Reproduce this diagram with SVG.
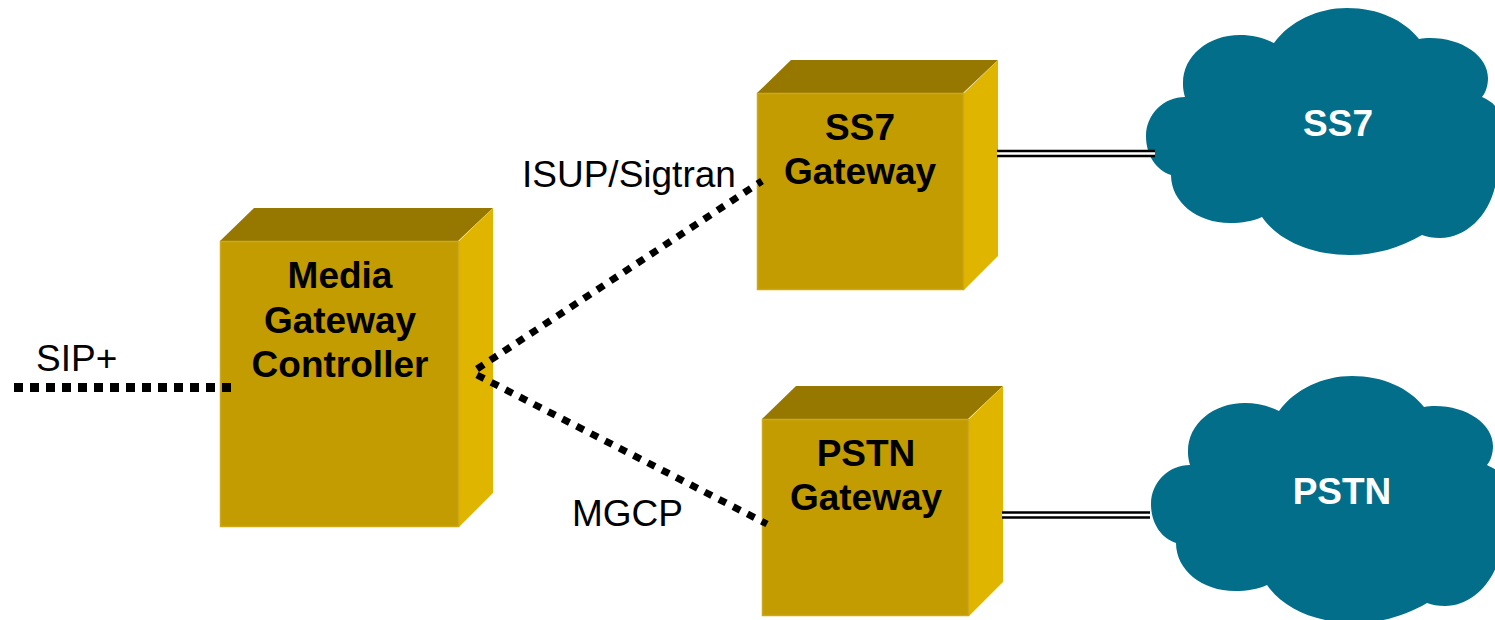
<svg xmlns="http://www.w3.org/2000/svg" width="1495" height="620" viewBox="0 0 1495 620">
<style>
.front{fill:#C29C00;stroke:#CDA91A;stroke-width:1.5}
.top{fill:#967800}
.side{fill:#E0B500}
.cloud{fill:#026E8A}
.t{font-family:"Liberation Sans",Arial,sans-serif;font-size:37px;fill:#000}
.b{font-weight:bold;text-anchor:middle}
.w{fill:#fff}
.dot{fill:none;stroke:#000}
.outer{stroke:#000;stroke-width:7.5}
.inner{stroke:#fff;stroke-width:2.5}
</style>
<defs>
<path id="cl" class="cloud" d="M1274,43 C1290,21 1318,8 1347,8 C1378,8 1404,20 1419,39 C1423,38 1426,38 1430,38 C1462,38 1488,56 1488,78 C1488,85 1486,92 1482,97 C1488,100 1492,102 1495,106 L1495,187 C1488,216 1466,238 1440,238 C1433,238 1427,237 1422,235 C1400,248 1375,255 1350,255 C1310,255 1278,240 1262,217 C1253,221 1242,223 1230,223 C1197,223 1171,202 1171,175 C1156,170 1146,155 1146,136 C1146,114 1164,97 1185,97 C1183,90 1183,86 1183,83 C1183,56 1208,35 1240,35 C1252,35 1264,38 1274,43 Z"/>
</defs>
<rect width="1495" height="620" fill="#fff"/>
<g id="cloud-ss7"><use href="#cl"/><text class="t b w" x="1338" y="136">SS7</text></g>
<g id="cloud-pstn"><use href="#cl" x="5" y="368"/><text class="t b w" x="1342" y="504">PSTN</text></g>
<g id="mgc">
<polygon class="top" points="220,241 254,208 493,208 458,241"/>
<polygon class="side" points="459,241 493,208 493,493 459,527"/>
<rect class="front" x="220.500" y="241.500" width="238" height="285"/>
<text class="t b" x="340" y="288">Media</text>
<text class="t b" x="340" y="333">Gateway</text>
<text class="t b" x="340" y="377">Controller</text>
</g>
<g id="ss7-gw">
<polygon class="top" points="757,93 791,60 998,60 963,93"/>
<polygon class="side" points="964,93 998,60 998,256 964,290"/>
<rect class="front" x="757.500" y="93.500" width="206" height="196"/>
<text class="t b" x="860" y="140">SS7</text>
<text class="t b" x="860" y="184">Gateway</text>
</g>
<g id="pstn-gw">
<polygon class="top" points="762,419 796,386 1003,386 968,419"/>
<polygon class="side" points="969,419 1003,386 1003,582 969,616"/>
<rect class="front" x="762.500" y="419.500" width="206" height="196"/>
<text class="t b" x="866" y="466">PSTN</text>
<text class="t b" x="866" y="510">Gateway</text>
</g>
<g id="connectors">
<path class="dot" stroke-width="9" stroke-dasharray="9 7" d="M14,387.500H231"/>
<path class="dot" stroke-width="7" stroke-dasharray="8 8" d="M477,369 L762,181"/>
<path class="dot" stroke-width="7" stroke-dasharray="8 8" d="M477,375 L767,524"/>
<path class="outer" d="M997,153.500H1155"/><path class="inner" d="M997,153.500H1155"/>
<path class="outer" d="M1002,515H1150"/><path class="inner" d="M1002,515H1150"/>
</g>
<g id="labels">
<text class="t" x="36" y="371">SIP+</text>
<text class="t" x="522" y="187">ISUP/Sigtran</text>
<text class="t" x="572" y="526">MGCP</text>
</g>
</svg>
